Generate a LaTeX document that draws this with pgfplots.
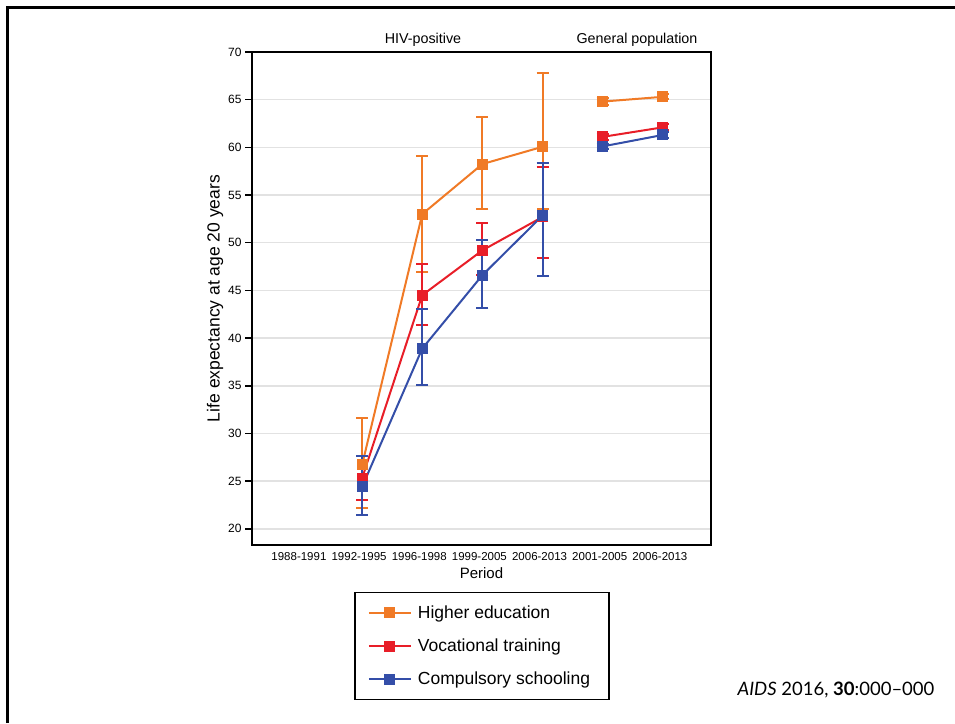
\documentclass[border=0pt]{standalone}
\usepackage{pgfplots}
\pgfplotsset{compat=1.18}
\usepackage{fontspec}
\setmainfont{Liberation Sans}
\newfontfamily\citefont[Ligatures=TeX]{Lato}
\definecolor{hiorange}{RGB}{240,122,38}
\definecolor{vocred}{RGB}{232,30,40}
\definecolor{compblue}{RGB}{52,78,168}
\definecolor{gridgray}{RGB}{226,226,226}

\pgfplotstableread{
x y ep em
1 26.7 4.9 4.5
2 53.0 6.05 6.1
3 58.25 4.95 4.75
4 60.06 7.74 6.56
}\higherhiv
\pgfplotstableread{
x y ep em
1 25.3 2.3 2.3
2 44.5 3.3 3.1
3 49.2 2.9 2.6
4 52.7 5.2 4.3
}\vochiv
\pgfplotstableread{
x y ep em
1 24.4 3.2 3.0
2 38.9 4.2 3.8
3 46.6 3.7 3.4
4 52.85 5.5 6.35
}\comphiv
\pgfplotstableread{
x y ep em
5 64.8 0.35 0.35
6 65.3 0.25 0.25
}\highergen
\pgfplotstableread{
x y ep em
5 61.1 0.3 0.3
6 62.1 0.3 0.3
}\vocgen
\pgfplotstableread{
x y ep em
5 60.1 0.3 0.3
6 61.3 0.3 0.3
}\compgen

\begin{document}
\begin{tikzpicture}[x=1pt,y=1pt]
\useasboundingbox (0,0) rectangle (955,723);
\draw[line width=3pt] (7,0) -- (7,715.5) -- (955,715.5);
\begin{axis}[
  at={(252pt,178pt)}, anchor=south west,
  scale only axis, width=459pt, height=493pt,
  xmin=-0.83, xmax=6.8, ymin=18.3, ymax=70,
  xtick={0,1,2,3,4,5,6},
  xticklabels={1988-1991,1992-1995,1996-1998,1999-2005,2006-2013,2001-2005,2006-2013},
  ytick={20,25,...,70},
  /pgf/number format/assume math mode=true,
  xtick style={draw=none},
  ytick style={line width=1.5pt, black},
  tick align=outside, major tick length=7pt,
  yticklabel style={font=\fontsize{12}{13}\selectfont},
  xticklabel style={font=\fontsize{11.5}{12}\selectfont, yshift=3pt, xshift=-3pt},
  ymajorgrids, grid style={gridgray, line width=1.5pt},
  axis line style={line width=2pt, black},
  axis y line*=left,
  ylabel={Life expectancy at age 20 years},
  ylabel style={font=\fontsize{17.5}{19}\selectfont, yshift=-2pt},
  xlabel={Period},
  xlabel style={font=\fontsize{15}{16}\selectfont, yshift=0pt},
  clip=false,
  legend style={at={(0.501,-0.0953)}, anchor=north, draw=black, line width=1.5pt,
    font=\fontsize{17.5}{20}\selectfont, inner xsep=13pt, inner ysep=11pt, row sep=15pt,
    nodes={inner xsep=6pt}},
  legend cell align=left,
  legend image code/.code={\draw[mark repeat=2, mark phase=2, line width=2pt] plot coordinates {(0pt,0pt) (21pt,0pt) (42pt,0pt)};},
  every axis plot/.append style={line width=2pt, mark=square*, mark size=4.5pt,
    error bars/y dir=both, error bars/y explicit,
    error bars/error bar style={line width=2pt},
    error bars/error mark options={rotate=90, mark size=6pt, line width=2pt}},
]
\addplot[hiorange, mark options={fill=hiorange}] table[x=x, y=y, y error plus=ep, y error minus=em] {\higherhiv};
\addlegendentry{Higher education}
\addplot[vocred, mark options={fill=vocred}] table[x=x, y=y, y error plus=ep, y error minus=em] {\vochiv};
\addlegendentry{Vocational training}
\addplot[compblue, mark options={fill=compblue}] table[x=x, y=y, y error plus=ep, y error minus=em] {\comphiv};
\addlegendentry{Compulsory schooling}
\addplot[hiorange, mark options={fill=hiorange}, forget plot] table[x=x, y=y, y error plus=ep, y error minus=em] {\highergen};
\addplot[vocred, mark options={fill=vocred}, forget plot] table[x=x, y=y, y error plus=ep, y error minus=em] {\vocgen};
\addplot[compblue, mark options={fill=compblue}, forget plot] table[x=x, y=y, y error plus=ep, y error minus=em] {\compgen};
\end{axis}
\draw[line width=2pt] (252,178) rectangle (711,671);
\node[font=\fontsize{14.3}{16}\selectfont] at (423,683) {HIV-positive};
\node[font=\fontsize{14.3}{16}\selectfont] at (637,683) {General population};
\node[font=\citefont\fontsize{18.5}{20}\selectfont] at (836,33) {\textit{AIDS} 2016, \textbf{30}:000–000};
\end{tikzpicture}
\end{document}
